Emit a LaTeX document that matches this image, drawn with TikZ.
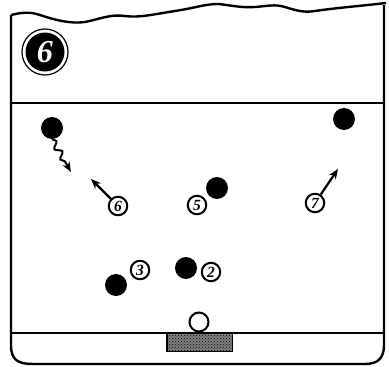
\documentclass[tikz,border=0pt]{standalone}
\usepackage{fontspec}
\newfontfamily\digitfont{Liberation Serif}
\usetikzlibrary{arrows.meta,decorations.pathmorphing,patterns}
\begin{document}
\begin{tikzpicture}[x=1pt,y=-1pt,
  frameline/.style={line width=2.4pt},
  player/.style={circle,fill=black,minimum size=22pt,inner sep=0pt},
  numbered/.style={circle,draw,line width=2pt,minimum size=18.5pt,inner sep=0pt,font=\digitfont\bfseries\itshape\fontsize{15.5}{15.5}\selectfont},
  move/.style={line width=2.2pt,-{Stealth[length=10pt,width=8pt]}},
  dribble/.style={line width=2pt,-{Stealth[length=10pt,width=8pt]},decorate,
     decoration={snake,amplitude=3pt,segment length=12pt,post length=9pt}}]
\useasboundingbox (0,0) rectangle (389,367);
% frame
\draw[frameline] (11,15) .. controls (20,13) and (28,11) .. (40,15)
  .. controls (55,20) and (70,24) .. (85,22)
  .. controls (100,19) and (110,14) .. (125,16)
  .. controls (140,18) and (155,14) .. (175,11)
  .. controls (195,8) and (205,4) .. (218,4)
  .. controls (230,5) and (240,8) .. (255,7)
  .. controls (268,6) and (275,4) .. (285,7)
  .. controls (295,10) and (303,13) .. (315,11)
  .. controls (335,8) and (360,6) .. (386,3);
\draw[frameline] (11,15) -- (11,345) .. controls (11,360) and (18,364) .. (33,364) -- (365,364)
  .. controls (378,364) and (384,358) .. (384,345) -- (384,5);
% lines
\draw[line width=1.7pt] (11,103) -- (384,103);
\draw[line width=1.7pt] (11,333) -- (384,333);
% goal
\node[fill=black!50,minimum width=65pt,minimum height=18pt,inner sep=0pt,anchor=north] (goal) at (199.5,333) {};
\fill[pattern=crosshatch dots,pattern color=black] (goal.south west) rectangle (goal.north east);
\draw[line width=1.4pt] (goal.south west) rectangle (goal.north east);
\node[circle,draw,fill=white,line width=2pt,minimum size=19pt,inner sep=0pt] (ball) at (199,322) {};
% badge
\node[circle,draw,line width=1.2pt,minimum size=46pt,inner sep=0pt] (badgeo) at (45,52) {};
\node[circle,fill=black,minimum size=39pt,inner sep=0pt,text=white,font=\digitfont\bfseries\itshape\fontsize{32}{32}\selectfont] (badge) at (45,52) {6};
% players
\node[player] (pA) at (52,128) {};
\node[player] (pB) at (217,188) {};
\node[player] (pC) at (344,119) {};
\node[player] (pD) at (116,285) {};
\node[player] (pE) at (186,268) {};
% numbered
\node[numbered] (n6) at (118,206) {6};
\node[numbered] (n5) at (197,205) {5};
\node[numbered] (n7) at (315,203) {7};
\node[numbered] (n3) at (140,270) {3};
\node[numbered] (n2) at (211,272) {2};
% arrows
\coordinate (tA) at (71,172);
\coordinate (t6) at (91,179);
\coordinate (t7) at (338,169);
\draw[dribble] (pA.south) -- (tA);
\draw[move] (n6) -- (t6);
\draw[move] (n7) -- (t7);
\end{tikzpicture}
\end{document}
